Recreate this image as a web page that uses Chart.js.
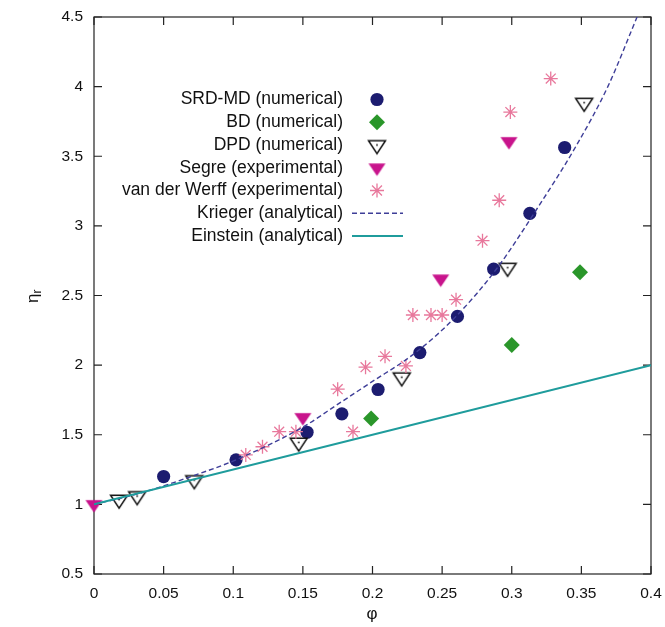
<!DOCTYPE html>
<html><head><meta charset="utf-8">
<script src="https://cdn.jsdelivr.net/npm/chart.js@4.4.1/dist/chart.umd.min.js"></script>
<style>html,body{margin:0;padding:0;background:#fff;}canvas{display:block;}</style>
</head><body>
<canvas id="c" width="665" height="627"></canvas>
<script>
// ---- data ----
const seriesNames = ['SRD-MD (numerical)','BD (numerical)','DPD (numerical)','Segre (experimental)','van der Werff (experimental)','Krieger (analytical)','Einstein (analytical)'];
const srdPhi = [0.050,0.102,0.153,0.178,0.204,0.234,0.261,0.287,0.313,0.338];
const srdEta = [1.20,1.32,1.518,1.650,1.825,2.09,2.35,2.69,3.09,3.563];
const bdPhi = [0.199,0.300,0.349];
const bdEta = [1.616,2.145,2.667];
const dpdPhi = [0.018,0.031,0.072,0.147,0.221,0.297,0.352];
const dpdEta = [1.035,1.06,1.175,1.445,1.913,2.70,3.885];
const segrePhi = [0.0,0.150,0.249,0.298];
const segreEta = [1.0,1.625,2.62,3.607];
const werffPhi = [0.109,0.121,0.133,0.145,0.175,0.186,0.195,0.209,0.224,0.229,0.242,0.250,0.260,0.279,0.291,0.299,0.328];
const werffEta = [1.355,1.414,1.522,1.522,1.827,1.522,1.985,2.063,1.994,2.36,2.36,2.36,2.47,2.894,3.184,3.817,4.058];
const kriegerPhi = [0,0.033,0.074,0.102,0.150,0.176,0.198,0.231,0.260,0.289,0.316,0.346,0.369,0.390];
const kriegerEta = [1.0,1.08,1.215,1.32,1.555,1.725,1.87,2.09,2.35,2.69,3.09,3.57,4.0,4.5];
const einsteinPhi = [0,0.4];
const einsteinEta = [1.0,2.0];
const xTicks = [0,0.05,0.1,0.15,0.2,0.25,0.3,0.35,0.4];
const xTickLabels = ['0','0.05','0.1','0.15','0.2','0.25','0.3','0.35','0.4'];
const yTicks = [0.5,1,1.5,2,2.5,3,3.5,4,4.5];
const yTickLabels = ['0.5','1','1.5','2','2.5','3','3.5','4','4.5'];

const pts = (xs, ys) => xs.map((x,i)=>({x, y: ys[i]}));
const FONT = '"Liberation Sans", Arial, Helvetica, sans-serif';

// down-triangle marker images, centred on their centroid
function downTriangle(w, h, fill, stroke, lw, dot){
  const H = Math.ceil(2*(2*h/3 + lw + 1));
  const W = Math.ceil(w + 2*lw + 2);
  const c = document.createElement('canvas');
  c.width = W; c.height = H;
  const g = c.getContext('2d');
  const cx = W/2, cy = H/2;
  g.beginPath();
  g.moveTo(cx - w/2, cy - h/3);
  g.lineTo(cx + w/2, cy - h/3);
  g.lineTo(cx, cy + 2*h/3);
  g.closePath();
  g.fillStyle = fill; g.fill();
  if (stroke){ g.strokeStyle = stroke; g.lineWidth = lw; g.lineJoin='miter'; g.stroke(); }
  if (dot){ g.fillStyle = stroke; g.fillRect(cx-0.8, cy-0.8, 1.6, 1.6); }
  return c;
}
const dpdMarker = downTriangle(17, 13, '#ffffff', '#111111', 1.5, true);
const segreMarker = downTriangle(17, 12.5, '#c8148c', null, 0, false);

const datasets = [
  {label: seriesNames[0], data: pts(srdPhi, srdEta), pointStyle:'circle', pointRadius:6.6, pointBackgroundColor:'#1c1c70', pointBorderColor:'#1c1c70', pointBorderWidth:0, showLine:false, order:7, clip:false},
  {label: seriesNames[1], data: pts(bdPhi, bdEta), pointStyle:'rectRot', pointRadius:8, pointBackgroundColor:'#2a962a', pointBorderColor:'#2a962a', pointBorderWidth:0, showLine:false, order:6, clip:false},
  {label: seriesNames[2], data: pts(dpdPhi, dpdEta), pointStyle: dpdMarker, pointRadius:9, pointBackgroundColor:'#fff', pointBorderColor:'#111', pointBorderWidth:0, showLine:false, order:5, clip:false},
  {label: seriesNames[3], data: pts(segrePhi, segreEta), pointStyle: segreMarker, pointRadius:9, pointBackgroundColor:'#c8148c', pointBorderColor:'#c8148c', pointBorderWidth:0, showLine:false, order:4, clip:false},
  {label: seriesNames[4], data: pts(werffPhi, werffEta), pointStyle:'star', pointRadius:7, pointBackgroundColor:'#e8789c', pointBorderColor:'#e8789c', pointBorderWidth:1.3, showLine:false, order:3, clip:false},
  {label: seriesNames[5], data: pts(kriegerPhi, kriegerEta), showLine:true, pointRadius:0, borderColor:'#3e3e98', borderWidth:1.4, borderDash:[5,3], cubicInterpolationMode:'monotone', fill:false, order:2},
  {label: seriesNames[6], data: pts(einsteinPhi, einsteinEta), showLine:true, pointRadius:0, borderColor:'#1f9c9c', borderWidth:2, fill:false, order:1}
];

const frame = {
  id:'frame',
  beforeDatasetsDraw(chart){
    const {ctx, chartArea:a, scales:{x, y}} = chart;
    ctx.save();
    ctx.strokeStyle = '#222'; ctx.lineWidth = 1.2;
    ctx.strokeRect(a.left, a.top, a.right-a.left, a.bottom-a.top);
    const L = 8;
    ctx.beginPath();
    xTicks.forEach(v=>{ const p = x.getPixelForValue(v);
      ctx.moveTo(p, a.bottom); ctx.lineTo(p, a.bottom-L);
      ctx.moveTo(p, a.top); ctx.lineTo(p, a.top+L); });
    yTicks.forEach(v=>{ const p = y.getPixelForValue(v);
      ctx.moveTo(a.left, p); ctx.lineTo(a.left+L, p);
      ctx.moveTo(a.right, p); ctx.lineTo(a.right-L, p); });
    ctx.stroke();
    ctx.restore();
  },
  afterDraw(chart){
    const ctx = chart.ctx;
    ctx.save();
    ctx.fillStyle = '#111';
    // axis titles
    ctx.font = '17px ' + FONT; ctx.textAlign='center'; ctx.textBaseline='middle';
    ctx.fillText('φ', 372, 614);
    ctx.translate(33, 296); ctx.rotate(-Math.PI/2);
    ctx.font = '17px ' + FONT; ctx.textAlign='left';
    ctx.fillText('η', -7, 0);
    ctx.font = '12px ' + FONT;
    ctx.fillText('r', 2.5, 5);
    ctx.restore();
    // legend (text right-aligned, key on the right)
    ctx.save();
    chart.data.datasets.forEach((ds, i)=>{
      const yy = 99.5 + i*22.75;
      ctx.font = '17.5px ' + FONT; ctx.textAlign='right'; ctx.textBaseline='middle';
      ctx.fillStyle = '#111';
      ctx.fillText(ds.label, 343, yy);
      if (ds.showLine){
        ctx.save();
        ctx.strokeStyle = ds.borderColor; ctx.lineWidth = ds.borderWidth;
        ctx.setLineDash(ds.borderDash || []);
        ctx.beginPath(); ctx.moveTo(352, yy); ctx.lineTo(403, yy); ctx.stroke();
        ctx.restore();
      } else {
        ctx.save();
        ctx.fillStyle = ds.pointBackgroundColor; ctx.strokeStyle = ds.pointBorderColor;
        ctx.lineWidth = ds.pointBorderWidth || 1;
        Chart.helpers.drawPoint(ctx, {pointStyle: ds.pointStyle, radius: ds.pointRadius, borderWidth: ds.pointBorderWidth, rotation: 0}, 377, yy);
        ctx.restore();
      }
    });
    ctx.restore();
  }
};

new Chart(document.getElementById('c'), {
  type:'scatter',
  data:{datasets},
  plugins:[frame],
  options:{
    responsive:false, animation:false, devicePixelRatio:1,
    layout:{padding:{top:17, right:14, left:0, bottom:0}},
    plugins:{legend:{display:false}, tooltip:{enabled:false}},
    elements:{line:{tension:0.4}},
    scales:{
      x:{type:'linear', min:0, max:0.4,
        afterFit(s){ s.height = 53; s.paddingLeft = 0; s.paddingRight = 0; },
        afterBuildTicks(s){ s.ticks = xTicks.map(v=>({value:v})); },
        grid:{display:false, drawTicks:false}, border:{display:false},
        ticks:{padding:10, color:'#111', font:{family:FONT, size:15.5}, maxRotation:0, autoSkip:false,
          callback:(v,i)=>xTickLabels[i]}},
      y:{type:'linear', min:0.5, max:4.5,
        afterFit(s){ s.width = 94; s.paddingTop = 0; s.paddingBottom = 0; },
        afterBuildTicks(s){ s.ticks = yTicks.map(v=>({value:v})); },
        grid:{display:false, drawTicks:false}, border:{display:false},
        ticks:{padding:11, color:'#111', font:{family:FONT, size:15.5}, autoSkip:false,
          callback:(v,i)=>yTickLabels[i]}}
    }
  }
});
</script>
</body></html>
